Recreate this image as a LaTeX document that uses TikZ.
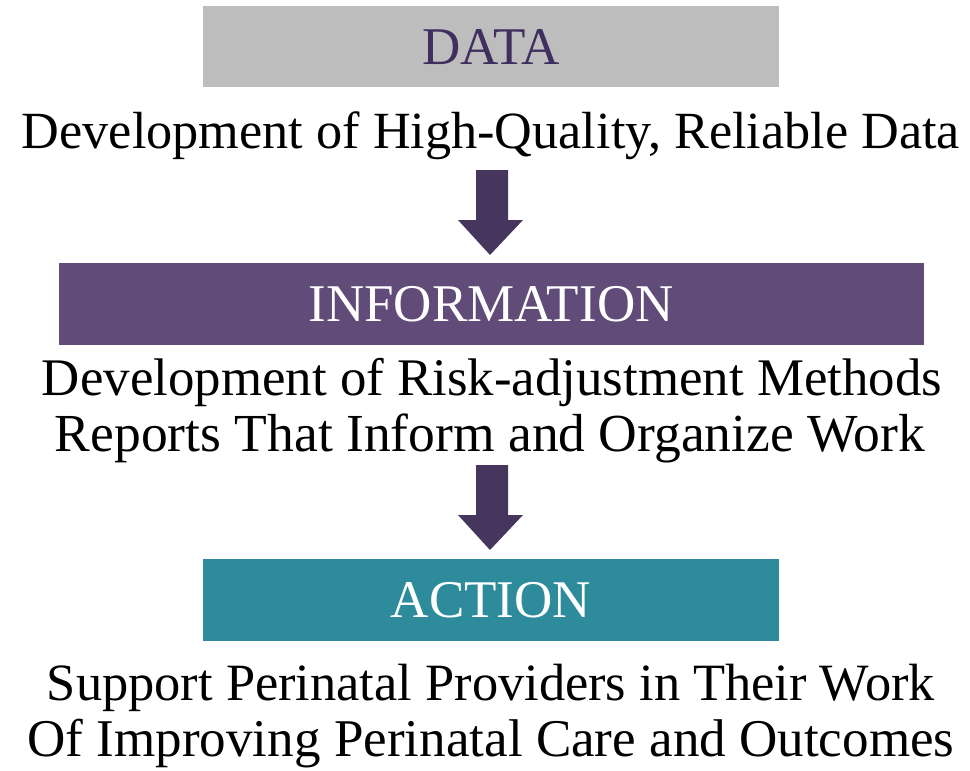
\documentclass[tikz,border=0pt]{standalone}
\usepackage{fontspec}
\setmainfont{Liberation Serif}
\usepackage{graphicx}
\definecolor{datagray}{HTML}{BDBDBD}
\definecolor{infopurple}{HTML}{614C79}
\definecolor{actionteal}{HTML}{2E8B9B}
\definecolor{arrowpurple}{HTML}{46365E}
\definecolor{titlepurple}{HTML}{3F2F5F}
\newcommand{\fitw}[2]{\resizebox{#1}{!}{#2}}
\tikzset{
  band/.style={inner sep=0pt, outer sep=0pt},
  bandtitle/.style={anchor=base, inner sep=0pt, font=\fontsize{53}{60}\selectfont},
  bodyline/.style={anchor=base, inner sep=0pt, font=\fontsize{40}{48}\selectfont},
  blockarrow/.style={fill=arrowpurple}
}
\begin{document}
\begin{tikzpicture}[x=1pt, y=-1pt]
\useasboundingbox (0,0) rectangle (970,771);

% stage bands
\fill[datagray] (203,6) rectangle (779,87);
\node[band] (databox) at (491,46.5) {};
\node[bandtitle, text=titlepurple] (datatitle) at (491,64) {DATA};

\fill[infopurple] (59,263) rectangle (924,345);
\node[band] (infobox) at (491.5,304) {};
\node[bandtitle, text=white] (infotitle) at (491,321) {INFORMATION};

\fill[actionteal] (203,559) rectangle (779,641);
\node[band] (actbox) at (491,600) {};
\node[bandtitle, text=white] (acttitle) at (491,617) {ACTION};

% descriptions
\node[bodyline] (d1) at (491,148) {\fitw{938pt}{Development of  High-Quality, Reliable Data}};
\node[bodyline] (d2) at (492,395) {\fitw{900pt}{Development of  Risk-adjustment Methods}};
\node[bodyline] (d3) at (490,451) {\fitw{870pt}{Reports That Inform and Organize Work}};
\node[bodyline] (d4) at (491,700) {\fitw{888pt}{Support Perinatal Providers in Their Work}};
\node[bodyline] (d5) at (491,756) {\fitw{927pt}{Of  Improving Perinatal Care and Outcomes}};

% block arrows between stages
\coordinate (a1) at (491,170);
\coordinate (a2) at (491,465);
\foreach \top in {a1, a2}{
  \fill[blockarrow, shift={(\top)}]
    (-15,0) -- (-15,50) -- (-33,50) -- (-1,85) -- (32,50)
    -- (17,50) -- (17,0) -- cycle;
}
\end{tikzpicture}
\end{document}
